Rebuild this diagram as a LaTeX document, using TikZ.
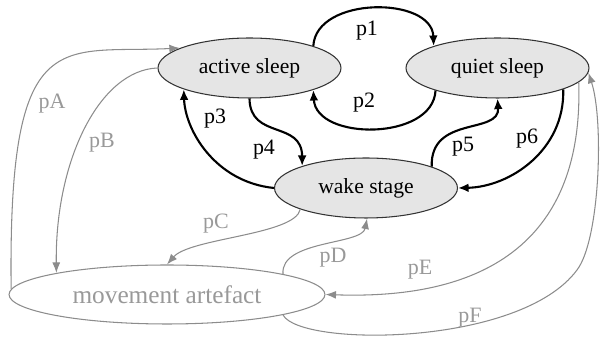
\documentclass[tikz,border=0pt]{standalone}
\usepackage{fontspec}
\setmainfont{Liberation Serif}
\usetikzlibrary{shapes.geometric}
\usetikzlibrary{arrows.meta}

\begin{document}
\begin{tikzpicture}[x=0.02cm,y=-0.02cm,
  stage/.style={ellipse,draw=black!80,line width=0.6pt,fill=gray!20,minimum width=3.66cm,minimum height=1.2cm,inner sep=0pt,font=\fontsize{12.3}{14}\selectfont},
  artefact/.style={ellipse,draw=gray!90,line width=0.6pt,fill=white,minimum width=6.32cm,minimum height=1.18cm,inner sep=0pt,text=gray!80,font=\fontsize{14.4}{16}\selectfont},
  trans/.style={black,line width=1.2pt,-{Latex[length=6pt,width=5pt]}},
  mtrans/.style={gray!90,line width=0.6pt,-{Latex[length=6pt,width=4.5pt]}},
  plabel/.style={font=\fontsize{12.5}{14}\selectfont,inner sep=0pt},
  mlabel/.style={plabel,text=gray!80}]
\useasboundingbox (0,0) rectangle (603,340);

% sleep stages
\node[stage] (as) at (249.5,68) {active sleep};
\node[stage] (qs) at (497.5,68) {quiet sleep};
\node[stage] (ws) at (366,188) {wake stage};
\node[artefact] (ma) at (167,294.5) {movement artefact};

% transitions between stages
\draw[trans] (as.19) .. controls (316,-4) and (432,-4) .. (qs.161);
\draw[trans] (qs.200) .. controls (433,141) and (316,141) .. (as.-19);
\draw[trans] (ws.west) .. controls (215,182) and (185,130) .. (as.198);
\draw[trans] (as.south) .. controls (250,140) and (302,120) .. (ws.161);
\draw[trans] (ws.18.5) .. controls (430,115) and (500,135) .. (qs.south);
\draw[trans] (qs.342) .. controls (565,150) and (510,187) .. (ws.east);

% transitions to and from movement artefact
\draw[mtrans] (ma.178) .. controls (8,20) and (60,54) .. (as.164);
\draw[mtrans] (as.west) .. controls (100,70) and (55,160) .. (ma.169.5);
\draw[mtrans] (ws.-162.5) .. controls (295,235) and (190,238) .. (ma.north);
\draw[mtrans] (ma.10.7) .. controls (280,240) and (362,245) .. (ws.272);
\draw[mtrans] (qs.350.5) .. controls (585,280) and (430,298) .. (ma.east);
\draw[mtrans] (ma.-10.7) .. controls (300,347) and (520,347) .. (577,270)
  .. controls (600,240) and (604,120) .. (qs.-3);

% labels
\node[plabel] (l1) at (367,31) {p1};
\node[plabel] (l2) at (364,103) {p2};
\node[plabel] (l3) at (215,119) {p3};
\node[plabel] (l4) at (264,150) {p4};
\node[plabel] (l5) at (463,147) {p5};
\node[plabel] (l6) at (527,139) {p6};
\node[mlabel] (lA) at (52,104) {pA};
\node[mlabel] (lB) at (102,143) {pB};
\node[mlabel] (lC) at (216,224) {pC};
\node[mlabel] (lD) at (333,258) {pD};
\node[mlabel] (lE) at (420,270) {pE};
\node[mlabel] (lF) at (470,318) {pF};

\end{tikzpicture}
\end{document}
